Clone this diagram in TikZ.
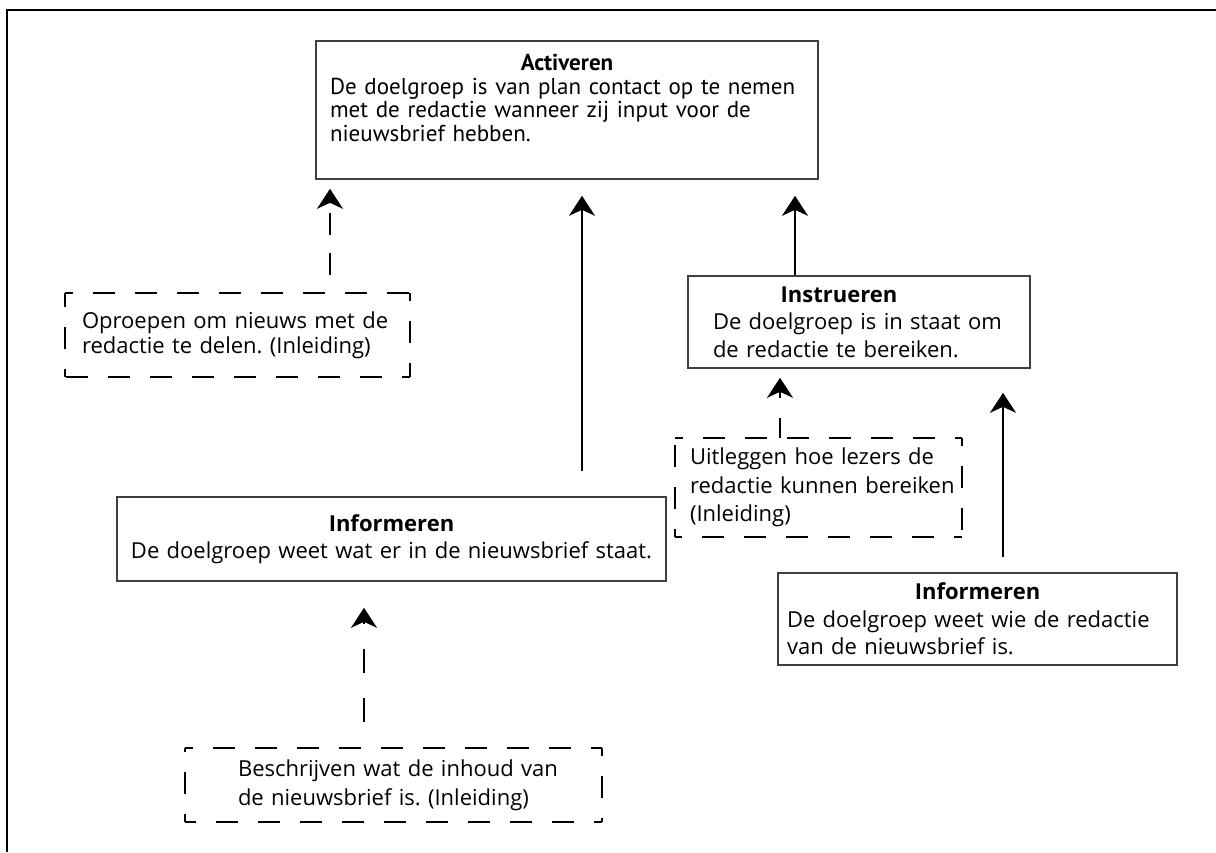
\documentclass[tikz,border=0pt]{standalone}
\usepackage{fontspec}
\setmainfont{Open Sans}
\newfontfamily\kopfont{PT Sans}
\usepackage{tikz}
\usetikzlibrary{arrows.meta}

\hyphenpenalty=10000
\exhyphenpenalty=10000
\hbadness=10000
\hfuzz=100pt
\newcommand{\kop}[2][0pt]{\makebox[\linewidth]{\bfseries #2\hspace*{#1}}\\}

\begin{document}
\begin{tikzpicture}[x=1pt,y=-1pt,>={Stealth[length=20pt,width=26pt,inset=6pt]}]
\tikzstyle{doel}=[rectangle,draw=black!75,line width=1.6pt,align=left,inner ysep=0pt,font=\fontsize{22}{27.5}\selectfont]
\tikzstyle{middel}=[rectangle,align=left,inner ysep=0pt,font=\fontsize{22}{28.5}\selectfont]
\tikzstyle{pijl}=[->,line width=2pt]
\tikzstyle{stippel}=[->,line width=2pt,dash pattern=on 22pt off 18pt]
\tikzstyle{rand}=[line width=2pt,dash pattern=on 22pt off 20pt,dash phase=14pt]

\useasboundingbox (0,0) rectangle (1216,852);
\draw[line width=2.5pt] (7,852) -- (7,10) -- (1216,10);

% doelen
\node (Act) [doel,font=\kopfont\fontsize{23}{23.5}\selectfont,text width=474pt,
inner xsep=14pt,minimum height=138pt] at (567,110) {\kop{Activeren}De~doelgroep~is~van~plan~contact~op~te~nemen\\
met~de~redactie~wanneer~zij~input~voor~de\\nieuwsbrief~hebben.\rule[-24pt]{0pt}{24pt}};
\node (Instr) [doel,text width=292pt,inner xsep=25pt,minimum height=92pt] at
(859,322) {\kop[40pt]{Instrueren}De~doelgroep~is~in~staat~om\\de~redactie~te~bereiken.};
\node (InfoL) [doel,align=center,text width=545pt,inner xsep=2pt,minimum
height=84pt] at (391.5,539) {\textbf{Informeren}\\De~doelgroep~weet~wat~er~in~de~nieuwsbrief~staat.};
\node (InfoR) [doel,text width=381pt,inner xsep=9pt,minimum height=92pt] at
(977.5,619) {\kop{Informeren}De~doelgroep~weet~wie~de~redactie\\van~de~nieuwsbrief~is.};

% middelen
\node (Oproep) [middel,font=\fontsize{22}{25}\selectfont,text width=311pt,inner
xsep=17pt,minimum height=84pt] at (237.5,335) {Oproepen~om~nieuws~met~de\\
redactie~te~delen.~(Inleiding)};
\node (Uitleg) [middel,text width=257pt,inner xsep=15pt,minimum height=99pt] at
(818.5,487.5) {Uitleggen~hoe~lezers~de\\redactie~kunnen~bereiken\\(Inleiding)};
\node (Beschrijf) [middel,font=\fontsize{22}{29}\selectfont,text width=311pt,inner
xsep=53pt,minimum height=74pt] at (393.5,785) {Beschrijven~wat~de~inhoud~van\\
de~nieuwsbrief~is.~(Inleiding)};

\foreach \n in {Oproep,Uitleg,Beschrijf}{
\draw[rand] (\n.north west) -- (\n.north east);
\draw[rand] (\n.north east) -- (\n.south east);
\draw[rand] (\n.south east) -- (\n.south west);
\draw[rand] (\n.south west) -- (\n.north west);
}

% pijlen
\draw[stippel,shorten <=18pt,shorten >=9pt] (Oproep.north -| 330,0) -- (Act.south -| 330,0);
\draw[pijl,shorten <=25pt,shorten >=16pt] (InfoL.north -| 582,0) -- (Act.south -| 582,0);
\draw[pijl,shorten >=16pt] (Instr.north -| 795,0) -- (Act.south -| 795,0);
\draw[stippel,dash pattern=on 20pt off 20pt,shorten >=9pt] (Uitleg.north -| 780,0) -- (Instr.south -| 780,0);
\draw[stippel,dash pattern=on 24pt off 25pt,shorten <=26pt,shorten >=26pt] (Beschrijf.north -| 364,0) -- (InfoL.south -| 364,0);
\draw[pijl,shorten <=15pt,shorten >=24pt] (InfoR.north -| 1003,0) -- (Instr.south -| 1003,0);
\end{tikzpicture}
\end{document}
